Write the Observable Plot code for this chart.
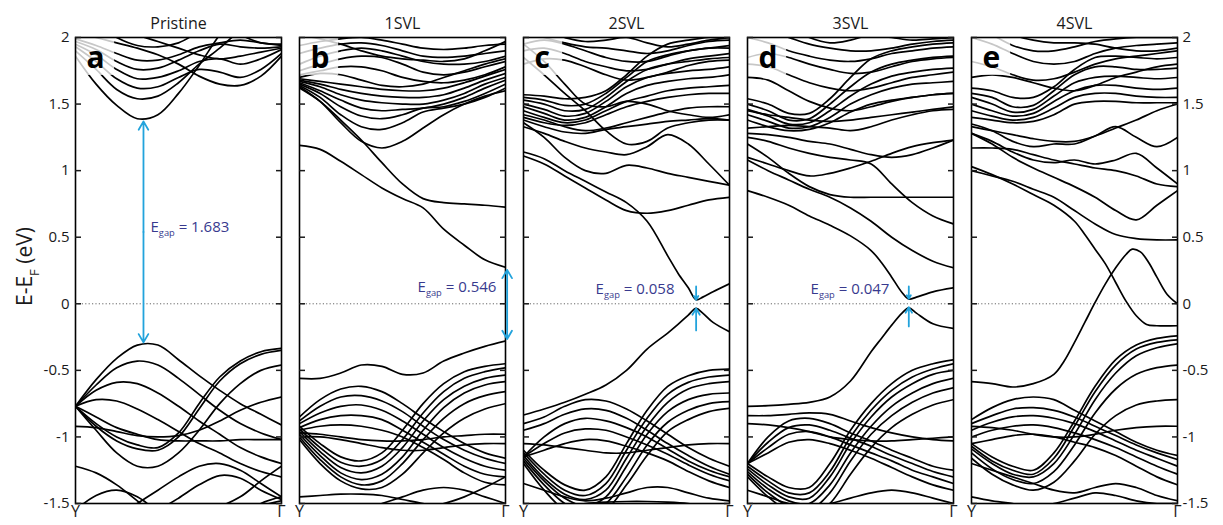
<!DOCTYPE html>
<html><head><meta charset="utf-8">
<script src="https://cdn.jsdelivr.net/npm/d3@7"></script>
<script src="https://cdn.jsdelivr.net/npm/@observablehq/plot@0.6"></script>
<style>
html,body{margin:0;padding:0;background:#fff;}
#chart{width:1223px;height:525px;}
</style></head><body><div id="chart"></div>
<script>
// ---------- data ----------
const PANELS = ["Pristine", "1SVL", "2SVL", "3SVL", "4SVL"];
const LETTERS = ["a", "b", "c", "d", "e"];
const Y_TICKS = [-1.5, -1, -0.5, 0, 0.5, 1, 1.5, 2];
const X_TICKS = [0, 1];
const X_TICK_LABELS = ["Y", "Γ"];
const X_GRID = [0, 0.1, 0.2, 0.3, 0.4, 0.5, 0.6, 0.7, 0.8, 0.9, 1];

// Pristine
const bandsPristine = [
  [1.86, 1.65, 1.49, 1.39, 1.42, 1.58, 1.79, 2.02, 2.2, 2.3, 2.35],
  [1.90, 1.76, 1.61, 1.54, 1.56, 1.66, 1.80, 1.92, 2.05, 2.12, 2.1],
  [1.93, 1.82, 1.69, 1.62, 1.63, 1.70, 1.76, 1.74, 1.70, 1.76, 1.88],
  [1.95, 1.87, 1.76, 1.69, 1.70, 1.75, 1.82, 1.84, 1.80, 1.84, 1.91],
  [1.97, 1.91, 1.82, 1.76, 1.77, 1.83, 1.90, 1.95, 1.93, 1.92, 1.93],
  [1.99, 1.94, 1.88, 1.83, 1.83, 1.87, 1.93, 1.96, 1.98, 1.96, 1.94],
  [2.05, 2.00, 1.96, 1.92, 1.87, 1.80, 1.71, 1.65, 1.64, 1.71, 1.86],
  [2.3, 2.2, 2.1, 2.02, 1.97, 1.92, 1.87, 1.84, 1.86, 1.89, 1.92],
  [2.2, 2.1, 2.0, 1.94, 1.93, 1.96, 2.04, 2.1, 2.02, 1.96, 1.95],
  [-0.77, -0.57, -0.41, -0.31, -0.31, -0.42, -0.54, -0.65, -0.75, -0.83, -0.91],
  [-0.77, -0.61, -0.48, -0.43, -0.46, -0.56, -0.68, -0.80, -0.90, -0.97, -1.02],
  [-0.77, -0.65, -0.59, -0.60, -0.67, -0.77, -0.88, -0.98, -1.08, -1.15, -1.20],
  [-0.77, -0.72, -0.73, -0.79, -0.87, -0.96, -1.05, -1.12, -1.20, -1.26, -1.30],
  [-0.77, -0.90, -1.00, -1.06, -1.08, -0.97, -0.75, -0.55, -0.43, -0.36, -0.335],
  [-0.77, -0.92, -1.03, -1.09, -1.10, -1.00, -0.79, -0.58, -0.45, -0.38, -0.35],
  [-0.77, -0.95, -1.12, -1.22, -1.22, -1.12, -0.95, -0.75, -0.60, -0.50, -0.46],
  [-0.92, -0.93, -0.96, -0.99, -1.00, -0.99, -0.95, -0.88, -0.80, -0.74, -0.70],
  [-0.77, -0.85, -0.93, -0.98, -1.02, -1.03, -1.03, -1.03, -1.02, -1.02, -1.02],
  [-1.22, -1.27, -1.36, -1.48, -1.60, -1.70, -1.75, -1.70, -1.60, -1.50, -1.45],
  [-1.55, -1.44, -1.40, -1.45, -1.56, -1.65, -1.70, -1.68, -1.60, -1.52, -1.48],
  [-1.75, -1.68, -1.60, -1.50, -1.40, -1.30, -1.22, -1.20, -1.25, -1.35, -1.45],
  [-1.85, -1.78, -1.70, -1.62, -1.55, -1.46, -1.36, -1.29, -1.31, -1.40, -1.47],
  [-1.9, -1.85, -1.8, -1.72, -1.65, -1.6, -1.55, -1.52, -1.45, -1.33, -1.22]
];

// 1SVL
const bands1SVL = [
  [1.19, 1.16, 1.07, 0.97, 0.87, 0.79, 0.72, 0.56, 0.44, 0.33, 0.275],
  [1.62, 1.52, 1.38, 1.23, 1.06, 0.90, 0.79, 0.76, 0.75, 0.74, 0.725],
  [1.63, 1.52, 1.36, 1.22, 1.17, 1.22, 1.32, 1.42, 1.50, 1.56, 1.60],
  [1.64, 1.55, 1.42, 1.33, 1.31, 1.36, 1.44, 1.47, 1.50, 1.55, 1.62],
  [1.65, 1.58, 1.48, 1.41, 1.39, 1.42, 1.47, 1.48, 1.52, 1.58, 1.65],
  [1.66, 1.60, 1.53, 1.47, 1.45, 1.46, 1.47, 1.50, 1.55, 1.62, 1.68],
  [1.67, 1.63, 1.57, 1.53, 1.51, 1.50, 1.50, 1.53, 1.58, 1.65, 1.70],
  [1.68, 1.65, 1.61, 1.58, 1.56, 1.55, 1.55, 1.57, 1.62, 1.68, 1.73],
  [1.69, 1.67, 1.65, 1.63, 1.61, 1.60, 1.60, 1.62, 1.66, 1.71, 1.76],
  [1.72, 1.75, 1.78, 1.78, 1.75, 1.70, 1.67, 1.66, 1.68, 1.72, 1.78],
  [1.75, 1.80, 1.84, 1.86, 1.85, 1.80, 1.74, 1.72, 1.74, 1.78, 1.82],
  [1.80, 1.86, 1.90, 1.92, 1.90, 1.86, 1.82, 1.80, 1.80, 1.82, 1.86],
  [1.88, 1.92, 1.95, 1.96, 1.94, 1.90, 1.86, 1.85, 1.86, 1.88, 1.90],
  [1.94, 1.97, 1.99, 2.00, 1.98, 1.95, 1.92, 1.91, 1.92, 1.94, 1.95],
  [2.02, 1.99, 1.95, 1.90, 1.86, 1.84, 1.83, 1.82, 1.84, 1.90, 1.97],
  [1.70, 1.73, 1.72, 1.68, 1.64, 1.63, 1.65, 1.70, 1.75, 1.80, 1.84],
  [-0.56, -0.56, -0.52, -0.46, -0.47, -0.53, -0.52, -0.43, -0.37, -0.32, -0.28],
  [-0.85, -0.72, -0.64, -0.62, -0.66, -0.75, -0.86, -0.96, -1.05, -1.12, -1.16],
  [-0.88, -0.77, -0.70, -0.69, -0.73, -0.81, -0.92, -1.02, -1.10, -1.16, -1.20],
  [-0.90, -0.82, -0.77, -0.76, -0.80, -0.88, -0.98, -1.08, -1.16, -1.22, -1.25],
  [-0.93, -0.87, -0.84, -0.84, -0.87, -0.95, -1.04, -1.13, -1.22, -1.28, -1.30],
  [-0.95, -0.92, -0.91, -0.92, -0.95, -1.00, -1.08, -1.17, -1.27, -1.34, -1.36],
  [-0.92, -1.05, -1.15, -1.18, -1.12, -0.95, -0.75, -0.60, -0.51, -0.47, -0.45],
  [-0.94, -1.08, -1.19, -1.22, -1.17, -1.02, -0.82, -0.66, -0.56, -0.51, -0.48],
  [-0.96, -1.11, -1.23, -1.27, -1.22, -1.08, -0.88, -0.72, -0.62, -0.56, -0.535],
  [-0.98, -1.14, -1.27, -1.32, -1.28, -1.15, -0.95, -0.78, -0.67, -0.61, -0.585],
  [-1.00, -1.17, -1.30, -1.36, -1.33, -1.20, -1.02, -0.86, -0.75, -0.69, -0.66],
  [-1.02, -1.20, -1.33, -1.39, -1.38, -1.28, -1.12, -0.97, -0.86, -0.79, -0.75],
  [-0.97, -0.98, -1.00, -1.02, -1.03, -1.03, -1.02, -1.00, -0.99, -0.98, -0.98],
  [-1.00, -1.00, -1.02, -1.05, -1.08, -1.10, -1.10, -1.08, -1.06, -1.05, -1.05],
  [-1.45, -1.44, -1.43, -1.43, -1.44, -1.47, -1.50, -1.52, -1.55, -1.55, -1.50],
  [-1.60, -1.60, -1.58, -1.55, -1.50, -1.45, -1.40, -1.38, -1.40, -1.45, -1.50],
  [-1.7, -1.65, -1.6, -1.55, -1.52, -1.5, -1.52, -1.5, -1.45, -1.38, -1.3]
];

// 2SVL
const bands2SVL = [
  [1.11, 1.05, 0.96, 0.87, 0.78, 0.70, 0.68, 0.70, 0.74, 0.78, 0.80],
  [1.33, 1.28, 1.22, 1.17, 1.14, 1.12, 1.18, 1.27, 1.20, 1.05, 0.89],
  [1.36, 1.25, 1.10, 1.00, 0.98, 1.04, 1.02, 0.98, 0.95, 0.92, 0.89],
  [1.40, 1.36, 1.34, 1.36, 1.42, 1.48, 1.52, 1.55, 1.57, 1.58, 1.58],
  [1.45, 1.40, 1.36, 1.38, 1.45, 1.52, 1.56, 1.60, 1.62, 1.63, 1.64],
  [1.48, 1.43, 1.38, 1.40, 1.48, 1.58, 1.64, 1.67, 1.69, 1.70, 1.72],
  [1.50, 1.46, 1.41, 1.43, 1.52, 1.63, 1.70, 1.73, 1.75, 1.76, 1.78],
  [1.53, 1.50, 1.45, 1.46, 1.55, 1.67, 1.76, 1.80, 1.82, 1.84, 1.85],
  [1.55, 1.53, 1.49, 1.50, 1.58, 1.70, 1.82, 1.87, 1.90, 1.92, 1.92],
  [1.57, 1.56, 1.54, 1.55, 1.60, 1.72, 1.86, 1.95, 1.98, 2.00, 2.00],
  [1.42, 1.38, 1.33, 1.30, 1.32, 1.36, 1.40, 1.44, 1.47, 1.48, 1.48],
  [1.38, 1.33, 1.29, 1.28, 1.31, 1.33, 1.35, 1.37, 1.38, 1.39, 1.38],
  [1.85, 1.72, 1.58, 1.45, 1.30, 1.20, 1.22, 1.32, 1.36, 1.38, 1.38],
  [1.95, 1.82, 1.65, 1.50, 1.48, 1.52, 1.50, 1.45, 1.42, 1.40, 1.42],
  [1.90, 1.92, 1.88, 1.82, 1.78, 1.75, 1.76, 1.80, 1.84, 1.86, 1.88],
  [1.95, 1.98, 1.95, 1.90, 1.85, 1.82, 1.82, 1.86, 1.90, 1.92, 1.94],
  [2.05, 2.00, 1.96, 1.93, 1.92, 1.90, 1.88, 1.90, 1.94, 1.97, 1.98],
  [1.80, 1.84, 1.83, 1.78, 1.72, 1.68, 1.70, 1.74, 1.79, 1.82, 1.83],
  [2.10, 2.05, 2.00, 1.97, 1.98, 2.00, 1.96, 1.93, 1.95, 1.98, 2.00],
  [-0.90, -0.85, -0.77, -0.72, -0.73, -0.79, -0.88, -0.98, -1.08, -1.16, -1.22],
  [-0.95, -0.90, -0.83, -0.79, -0.80, -0.86, -0.95, -1.05, -1.14, -1.22, -1.28],
  [-1.15, -1.00, -0.90, -0.86, -0.88, -0.93, -1.00, -1.09, -1.18, -1.25, -1.30],
  [-1.15, -1.05, -0.97, -0.94, -0.95, -1.00, -1.06, -1.13, -1.21, -1.28, -1.33],
  [-1.15, -1.10, -1.05, -1.02, -1.03, -1.07, -1.12, -1.18, -1.26, -1.33, -1.38],
  [-1.10, -1.25, -1.36, -1.40, -1.30, -1.05, -0.80, -0.62, -0.54, -0.50, -0.49],
  [-1.12, -1.28, -1.40, -1.44, -1.35, -1.10, -0.86, -0.68, -0.59, -0.55, -0.535],
  [-1.14, -1.31, -1.43, -1.47, -1.40, -1.16, -0.92, -0.74, -0.64, -0.60, -0.585],
  [-1.16, -1.33, -1.46, -1.52, -1.45, -1.22, -0.98, -0.81, -0.72, -0.68, -0.67],
  [-1.18, -1.36, -1.50, -1.56, -1.50, -1.30, -1.06, -0.89, -0.80, -0.75, -0.735],
  [-1.20, -1.40, -1.55, -1.60, -1.55, -1.36, -1.14, -0.96, -0.87, -0.81, -0.785],
  [-1.35, -1.40, -1.45, -1.48, -1.46, -1.42, -1.38, -1.38, -1.42, -1.46, -1.48],
  [-1.05, -1.06, -1.08, -1.10, -1.12, -1.12, -1.10, -1.08, -1.06, -1.05, -1.05],
  [-1.6, -1.55, -1.52, -1.5, -1.49, -1.485, -1.485, -1.49, -1.5, -1.52, -1.55]
];
const X_FINE_2SVL = [0, 0.1, 0.2, 0.3, 0.4, 0.5, 0.6, 0.7, 0.75, 0.8, 0.838, 0.87, 0.92, 1];
const cbm2SVL = [1.14, 1.09, 1.00, 0.92, 0.84, 0.76, 0.62, 0.36, 0.23, 0.12, 0.03, 0.05, 0.09, 0.15];
const vbm2SVL = [-0.835, -0.79, -0.74, -0.68, -0.61, -0.50, -0.34, -0.22, -0.155, -0.085, -0.035, -0.07, -0.14, -0.21];

// 3SVL
const bands3SVL = [
  [1.08, 1.00, 0.93, 0.86, 0.80, 0.72, 0.62, 0.50, 0.40, 0.32, 0.27],
  [1.25, 1.22, 1.17, 1.13, 1.10, 1.08, 1.05, 0.90, 0.76, 0.66, 0.60],
  [1.10, 1.05, 1.00, 0.96, 0.98, 1.02, 1.07, 1.13, 1.18, 1.21, 1.23],
  [1.20, 1.10, 0.98, 0.88, 0.82, 0.80, 0.80, 0.80, 0.80, 0.80, 0.80],
  [1.28, 1.27, 1.25, 1.22, 1.20, 1.16, 1.12, 1.10, 1.12, 1.17, 1.23],
  [1.38, 1.33, 1.30, 1.31, 1.36, 1.44, 1.50, 1.53, 1.55, 1.57, 1.58],
  [1.42, 1.37, 1.32, 1.33, 1.40, 1.50, 1.57, 1.62, 1.65, 1.66, 1.67],
  [1.46, 1.41, 1.35, 1.36, 1.45, 1.56, 1.65, 1.71, 1.74, 1.76, 1.77],
  [1.50, 1.45, 1.38, 1.39, 1.50, 1.63, 1.74, 1.80, 1.83, 1.85, 1.86],
  [1.54, 1.50, 1.43, 1.43, 1.54, 1.70, 1.84, 1.90, 1.93, 1.95, 1.96],
  [1.45, 1.42, 1.40, 1.38, 1.37, 1.38, 1.40, 1.42, 1.44, 1.46, 1.48],
  [1.32, 1.33, 1.34, 1.33, 1.32, 1.30, 1.33, 1.38, 1.42, 1.45, 1.46],
  [1.70, 1.68, 1.60, 1.52, 1.47, 1.45, 1.48, 1.52, 1.55, 1.57, 1.58],
  [1.80, 1.78, 1.72, 1.66, 1.62, 1.60, 1.62, 1.66, 1.70, 1.72, 1.74],
  [1.85, 1.88, 1.85, 1.80, 1.76, 1.73, 1.74, 1.78, 1.82, 1.84, 1.85],
  [2.00, 1.96, 1.90, 1.86, 1.83, 1.82, 1.84, 1.88, 1.90, 1.92, 1.93],
  [2.10, 2.05, 2.00, 1.95, 1.92, 1.90, 1.90, 1.92, 1.95, 1.97, 1.98],
  [2.20, 2.15, 2.08, 2.00, 1.96, 1.98, 2.02, 2.00, 1.98, 1.99, 2.00],
  [-0.84, -0.84, -0.83, -0.82, -0.83, -0.88, -0.93, -0.97, -1.00, -1.02, -1.03],
  [-0.90, -0.91, -0.93, -0.96, -1.00, -1.02, -1.03, -1.03, -1.02, -1.01, -1.00],
  [-1.20, -1.00, -0.88, -0.86, -0.90, -0.97, -1.03, -1.10, -1.16, -1.22, -1.25],
  [-1.20, -1.04, -0.93, -0.91, -0.95, -1.01, -1.07, -1.14, -1.20, -1.26, -1.30],
  [-1.20, -1.08, -0.98, -0.96, -1.00, -1.06, -1.12, -1.18, -1.25, -1.30, -1.35],
  [-1.20, -1.12, -1.04, -1.02, -1.05, -1.10, -1.16, -1.23, -1.30, -1.36, -1.40],
  [-1.20, -1.30, -1.38, -1.38, -1.20, -0.95, -0.75, -0.60, -0.50, -0.45, -0.42],
  [-1.22, -1.33, -1.42, -1.42, -1.26, -1.00, -0.80, -0.65, -0.55, -0.49, -0.45],
  [-1.24, -1.36, -1.45, -1.46, -1.30, -1.05, -0.85, -0.70, -0.60, -0.53, -0.50],
  [-1.26, -1.39, -1.48, -1.50, -1.36, -1.12, -0.92, -0.77, -0.67, -0.60, -0.56],
  [-1.28, -1.42, -1.52, -1.55, -1.42, -1.18, -0.98, -0.84, -0.74, -0.67, -0.63],
  [-1.30, -1.45, -1.56, -1.60, -1.50, -1.28, -1.08, -0.93, -0.83, -0.76, -0.72],
  [-1.40, -1.45, -1.50, -1.52, -1.50, -1.46, -1.42, -1.40, -1.42, -1.46, -1.50]
];
const X_FINE_3SVL = [0, 0.1, 0.2, 0.3, 0.4, 0.5, 0.6, 0.65, 0.7, 0.75, 0.783, 0.82, 0.9, 1];
const cbm3SVL = [0.85, 0.80, 0.74, 0.66, 0.59, 0.51, 0.40, 0.31, 0.20, 0.085, 0.035, 0.05, 0.09, 0.12];
const vbm3SVL = [-0.77, -0.765, -0.755, -0.74, -0.70, -0.58, -0.36, -0.26, -0.16, -0.07, -0.03, -0.07, -0.15, -0.185];

// 4SVL
const bands4SVL = [
  [1.00, 0.96, 0.92, 0.86, 0.80, 0.70, 0.60, 0.52, 0.49, 0.48, 0.48],
  [1.17, 1.17, 1.16, 1.12, 1.08, 1.05, 1.02, 1.00, 0.96, 0.90, 0.88],
  [1.28, 1.20, 1.10, 1.02, 0.95, 0.88, 0.80, 0.70, 0.63, 0.74, 0.85],
  [1.35, 1.30, 1.22, 1.18, 1.20, 1.20, 1.26, 1.33, 1.25, 1.18, 1.25],
  [1.28, 1.22, 1.14, 1.08, 1.06, 1.08, 1.05, 1.08, 1.13, 1.02, 0.90],
  [1.33, 1.30, 1.27, 1.24, 1.22, 1.22, 1.26, 1.32, 1.38, 1.45, 1.50],
  [1.40, 1.38, 1.36, 1.37, 1.42, 1.50, 1.52, 1.52, 1.51, 1.51, 1.51],
  [1.45, 1.41, 1.38, 1.40, 1.47, 1.55, 1.58, 1.58, 1.56, 1.55, 1.55],
  [1.50, 1.45, 1.41, 1.43, 1.52, 1.60, 1.64, 1.64, 1.62, 1.61, 1.62],
  [1.55, 1.50, 1.44, 1.46, 1.56, 1.66, 1.70, 1.71, 1.70, 1.69, 1.70],
  [1.58, 1.55, 1.48, 1.49, 1.60, 1.72, 1.78, 1.78, 1.76, 1.76, 1.77],
  [1.62, 1.60, 1.55, 1.55, 1.63, 1.76, 1.85, 1.86, 1.85, 1.84, 1.85],
  [1.70, 1.72, 1.70, 1.66, 1.62, 1.60, 1.64, 1.70, 1.74, 1.78, 1.80],
  [1.82, 1.78, 1.72, 1.68, 1.69, 1.74, 1.80, 1.84, 1.86, 1.88, 1.90],
  [2.00, 1.95, 1.88, 1.82, 1.80, 1.82, 1.88, 1.92, 1.94, 1.95, 1.96],
  [2.10, 2.02, 1.94, 1.90, 1.90, 1.93, 1.97, 1.99, 2.00, 2.00, 2.00],
  [2.20, 2.10, 2.02, 1.98, 1.96, 1.96, 1.95, 1.92, 1.90, 1.90, 1.92],
  [-1.05, -1.15, -1.22, -1.25, -1.12, -0.88, -0.62, -0.42, -0.31, -0.26, -0.24],
  [-1.07, -1.18, -1.25, -1.28, -1.16, -0.92, -0.66, -0.46, -0.34, -0.29, -0.27],
  [-1.09, -1.20, -1.28, -1.30, -1.20, -0.98, -0.72, -0.52, -0.39, -0.33, -0.30],
  [-1.12, -1.24, -1.32, -1.35, -1.26, -1.06, -0.82, -0.64, -0.53, -0.48, -0.46],
  [-1.16, -1.28, -1.36, -1.40, -1.34, -1.18, -0.98, -0.84, -0.76, -0.73, -0.72],
  [-0.87, -0.78, -0.72, -0.70, -0.72, -0.80, -0.88, -0.96, -1.04, -1.10, -1.14],
  [-0.90, -0.84, -0.79, -0.78, -0.80, -0.85, -0.92, -0.99, -1.06, -1.12, -1.17],
  [-0.95, -0.89, -0.85, -0.84, -0.86, -0.90, -0.96, -1.03, -1.10, -1.16, -1.22],
  [-1.00, -0.95, -0.92, -0.91, -0.93, -0.97, -1.02, -1.08, -1.15, -1.22, -1.28],
  [-1.05, -1.02, -0.99, -0.98, -1.00, -1.04, -1.08, -1.14, -1.22, -1.30, -1.36],
  [-0.92, -0.93, -0.95, -0.98, -1.00, -1.00, -0.98, -0.95, -0.93, -0.92, -0.92],
  [-1.20, -1.25, -1.30, -1.35, -1.40, -1.42, -1.38, -1.35, -1.38, -1.44, -1.48],
  [-1.45, -1.48, -1.50, -1.52, -1.50, -1.46, -1.42, -1.44, -1.48, -1.50, -1.50]
];
const X_FINE_4SVL_UP = [0, 0.1, 0.2, 0.3, 0.4, 0.45, 0.5, 0.55, 0.6, 0.65, 0.7, 0.75, 0.78, 0.82, 0.86, 0.9, 0.95, 1];
const crossUp4SVL = [-0.585, -0.60, -0.625, -0.60, -0.53, -0.43, -0.29, -0.14, 0.01, 0.15, 0.27, 0.37, 0.41, 0.39, 0.31, 0.20, 0.07, 0.0];
const X_FINE_4SVL_DOWN = [0, 0.1, 0.2, 0.3, 0.4, 0.5, 0.55, 0.6, 0.65, 0.7, 0.75, 0.8, 0.85, 0.9, 1];
const crossDown4SVL = [1.03, 0.97, 0.90, 0.82, 0.74, 0.62, 0.52, 0.41, 0.30, 0.16, 0.02, -0.09, -0.155, -0.165, -0.165];

// annotations
const GAP_LABELS = [
  {panel: "Pristine", value: "1.683", x: 0.364, e: 0.577, side: "start"},
  {panel: "1SVL", value: "0.546", x: 0.956, e: 0.125, side: "end"},
  {panel: "2SVL", value: "0.058", x: 0.733, e: 0.11, side: "end"},
  {panel: "3SVL", value: "0.047", x: 0.689, e: 0.11, side: "end"}
];
const GAP_ARROWS = [
  {panel: "Pristine", x: 0.33, from: 0.54, to: 1.37},
  {panel: "Pristine", x: 0.33, from: 0.54, to: -0.29},
  {panel: "1SVL", x: 1.008, from: 0.0, to: 0.255},
  {panel: "1SVL", x: 1.008, from: 0.0, to: -0.265},
  {panel: "2SVL", x: 0.838, from: 0.13, to: 0.03},
  {panel: "2SVL", x: 0.838, from: -0.2, to: -0.035},
  {panel: "3SVL", x: 0.783, from: 0.13, to: 0.038},
  {panel: "3SVL", x: 0.783, from: -0.17, to: -0.025}
];
const LETTER_BOX = {x1: 0, x2: 0.19, y1: 1.715, y2: 2};
const Y_LABEL = [{panel: "Pristine", text: "E-E|F| (eV)"}];

// ---------- build table ----------
const points = [];
function addBands(panel, bands, xs, tag) {
  bands.forEach((b, i) => b.forEach((e, j) => points.push({panel, band: panel + tag + i, x: xs[j], e})));
}
addBands("Pristine", bandsPristine, X_GRID, "g");
addBands("1SVL", bands1SVL, X_GRID, "g");
addBands("2SVL", bands2SVL, X_GRID, "g");
addBands("2SVL", [cbm2SVL, vbm2SVL], X_FINE_2SVL, "f");
addBands("3SVL", bands3SVL, X_GRID, "g");
addBands("3SVL", [cbm3SVL, vbm3SVL], X_FINE_3SVL, "f");
addBands("4SVL", bands4SVL, X_GRID, "g");
addBands("4SVL", [crossUp4SVL], X_FINE_4SVL_UP, "u");
addBands("4SVL", [crossDown4SVL], X_FINE_4SVL_DOWN, "d");

const CYAN = "#22a3dc";
const NAVY = "#383a8e";
const INK = "#1a1a1a";
const FONT = "'Open Sans', 'Noto Sans', sans-serif";
const fmt = d => String(d);

const plot = Plot.plot({
  width: 1223, height: 525,
  marginLeft: 74, marginRight: 46, marginTop: 37, marginBottom: 22,
  style: {fontFamily: FONT, background: "white", color: INK, overflow: "visible"},
  fx: {domain: PANELS, paddingInner: 0.0814, paddingOuter: 0, label: null},
  x: {domain: [0, 1], label: null},
  y: {domain: [-1.5, 2], label: null},
  marks: [
    Plot.ruleY([0], {stroke: "#666", strokeDasharray: "1.2,2.2", strokeWidth: 1}),
    Plot.line(points, {fx: "panel", x: "x", y: "e", z: "band", curve: "catmull-rom",
      stroke: "black", strokeWidth: 1.7, clip: true}),
    Plot.rect(PANELS.map(p => ({panel: p, ...LETTER_BOX})), {fx: "panel", x1: "x1", x2: "x2", y1: "y1", y2: "y2",
      fill: "white", fillOpacity: 0.78}),
    Plot.text(PANELS.map((p, i) => ({panel: p, letter: LETTERS[i]})), {fx: "panel", text: "letter",
      frameAnchor: "top-left", lineAnchor: "top", dx: 11, dy: 9, fontSize: 30, fontWeight: "bold", fill: "black"}),
    Plot.frame({stroke: "black", strokeWidth: 1.6}),
    Plot.axisY(Y_TICKS, {anchor: "left", tickSize: -6, fill: "none", facetAnchor: null, strokeWidth: 1.5, label: null}),
    Plot.axisY(Y_TICKS, {anchor: "right", tickSize: -6, fill: "none", facetAnchor: null, strokeWidth: 1.5, label: null}),
    Plot.axisY(Y_TICKS, {anchor: "left", tickSize: 0, tickPadding: 6, tickFormat: fmt, fontSize: 15, fill: INK, label: null}),
    Plot.axisY(Y_TICKS, {anchor: "right", tickSize: 0, tickPadding: 5, tickFormat: fmt, fontSize: 15, fill: INK, label: null}),
    Plot.axisX(X_TICKS, {tickSize: 0, tickPadding: 2, tickFormat: (d, i) => X_TICK_LABELS[i], fontSize: 16, fill: INK, label: null}),
    Plot.axisFx({anchor: "top", tickSize: 0, tickPadding: 9, fontSize: 16, fill: INK, label: null}),
    Plot.arrow(GAP_ARROWS, {fx: "panel", x: "x", y1: "from", y2: "to", stroke: CYAN, strokeWidth: 1.8, headLength: 8}),
    Plot.text(GAP_LABELS.filter(d => d.side === "start"), {fx: "panel", x: "x", y: "e", text: d => "E|gap| = " + d.value,
      textAnchor: "start", fontSize: 15, fill: NAVY}),
    Plot.text(GAP_LABELS.filter(d => d.side === "end"), {fx: "panel", x: "x", y: "e", text: d => "E|gap| = " + d.value,
      textAnchor: "end", fontSize: 15, fill: NAVY}),
    Plot.text(Y_LABEL, {fx: "panel", text: "text", frameAnchor: "left", textAnchor: "middle", dx: -50, dy: -4, rotate: -90,
      fontSize: 21, fill: INK})
  ]
});

// subscripts: "main|sub|rest"
d3.select(plot).selectAll("text").each(function () {
  const parts = this.textContent.split("|");
  if (parts.length < 3) return;
  const t = d3.select(this);
  let fs = NaN, node = this;
  while (node && node.getAttribute && isNaN(fs)) { fs = parseFloat(node.getAttribute("font-size")); node = node.parentNode; }
  if (isNaN(fs)) fs = 15;
  t.text(null);
  t.append("tspan").text(parts[0]);
  t.append("tspan").attr("dy", fs * 0.3).attr("font-size", fs * 0.62).text(parts[1]);
  t.append("tspan").attr("dy", -fs * 0.3).text(parts[2]);
});

document.getElementById("chart").appendChild(plot);
</script></body></html>
